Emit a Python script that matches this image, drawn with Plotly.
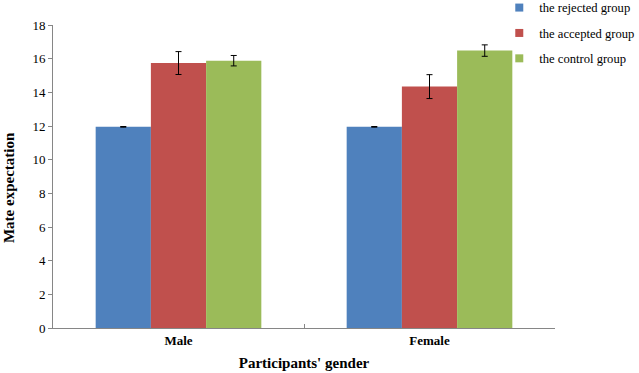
import plotly.graph_objects as go

categories = ["Male", "Female"]
series_names = ["the rejected group", "the accepted group", "the control group"]
rejected = [11.95, 11.95]
rejected_err = [0.02, 0.02]
accepted = [15.74, 14.34]
accepted_err = [0.68, 0.71]
control = [15.88, 16.48]
control_err = [0.31, 0.34]
colors = ["#4F81BD", "#C0504D", "#9BBB59"]
y_ticks = [0, 2, 4, 6, 8, 10, 12, 14, 16, 18]

font = "Liberation Serif, Times New Roman, serif"

fig = go.Figure()
for i, (name, vals, errs, c) in enumerate(zip(series_names, [rejected, accepted, control],
                                              [rejected_err, accepted_err, control_err], colors)):
    fig.add_trace(go.Bar(
        x=categories, y=vals, name=name, showlegend=False, legendgroup=f"g{i}",
        marker=dict(color=c, line=dict(width=0)),
        error_y=dict(type="data", array=errs, visible=True,
                     color="#000000", thickness=1, width=3),
    ))
for i, (name, c) in enumerate(zip(series_names, colors)):
    fig.add_trace(go.Scatter(
        x=[None], y=[None], mode="markers", name=name, legendgroup=f"g{i}",
        marker=dict(symbol="square", size=8, color=c),
    ))

fig.update_layout(
    width=639, height=373,
    margin=dict(l=53, r=84, t=25, b=45, autoexpand=False),
    barmode="group", bargap=0.34, bargroupgap=0,
    plot_bgcolor="white", paper_bgcolor="white",
    font=dict(family=font, size=13, color="#000000"),
    legend=dict(x=0.889, y=1.106,
                xanchor="left", yanchor="top",
                font=dict(family=font, size=12.6),
                itemwidth=30, tracegroupgap=6,
                bgcolor="rgba(0,0,0,0)"),
    showlegend=True,
    annotations=[dict(text="<b>Mate expectation</b>", textangle=-90,
                      xref="paper", yref="paper", x=-0.0876, y=0.462,
                      xanchor="center", yanchor="middle", showarrow=False,
                      font=dict(family=font, size=15))],
)
fig.update_xaxes(
    showline=True, linecolor="#868686", linewidth=1,
    ticks="inside", tickson="boundaries", ticklen=4, tickcolor="#868686",
    tickfont=dict(family=font, size=13, color="#000000", weight="bold"),
    title=dict(text="<b>Participants' gender</b>", font=dict(family=font, size=15), standoff=10),
    showgrid=False,
)
fig.update_yaxes(
    range=[0, 18], tickvals=y_ticks,
    showline=True, linecolor="#868686", linewidth=1,
    ticks="outside", ticklen=4, tickcolor="#868686",
    tickfont=dict(family=font, size=13, color="#000000"),
    showgrid=False, zeroline=False,
)

fig.write_html("out.html", config={"displayModeBar": False},
               post_script="document.body.style.margin='0';")
